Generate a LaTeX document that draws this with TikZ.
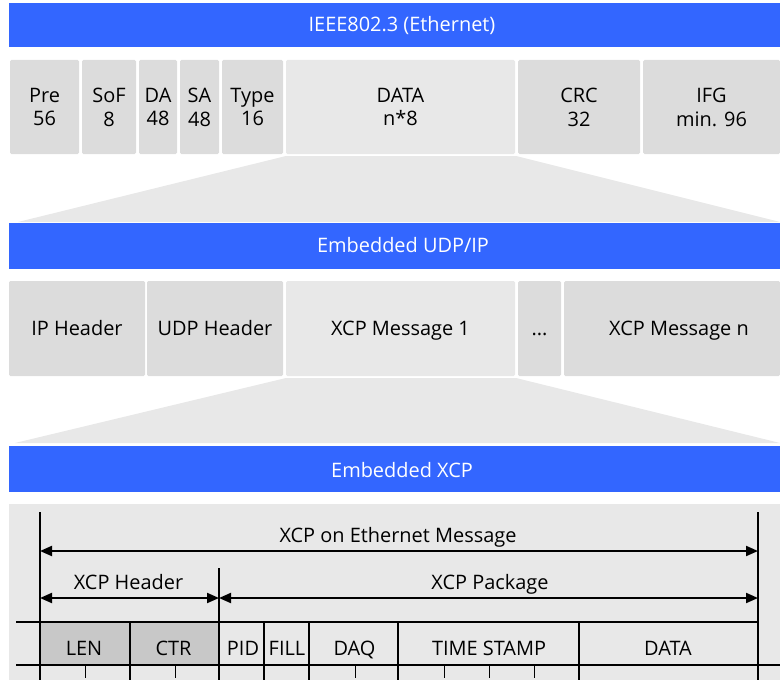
\documentclass[tikz,border=0pt]{standalone}
\usepackage{fontspec}
\setmainfont{Open Sans}
\usetikzlibrary{arrows.meta}
\definecolor{barblue}{RGB}{51,102,255}
\definecolor{fieldgray}{RGB}{220,220,220}
\definecolor{lightfield}{RGB}{232,232,232}
\definecolor{headgray}{RGB}{200,200,200}
\begin{document}
\begin{tikzpicture}[x=1bp,y=-1bp,
  font=\fontsize{20}{24}\selectfont,
  bartext/.style={text=white,anchor=base,inner sep=0},
  field/.style={align=center,inner sep=0},
  lbl/.style={anchor=base,inner sep=0},
  rule/.style={line width=2bp},
  tick/.style={line width=1bp},
  dim/.style={line width=2bp,{Triangle[length=12bp,width=10bp]}-{Triangle[length=12bp,width=10bp]}}]
\useasboundingbox (0,0) rectangle (780,680);

% Ethernet frame
\fill[color=barblue] (9,3) rectangle (780,47);
\node[bartext] (eth) at (402,32) {IEEE802.3 (Ethernet)};

\fill[color=fieldgray,rounded corners=1.5] (10,60) rectangle (79,154);
\fill[color=fieldgray,rounded corners=1.5] (82,60) rectangle (136,154);
\fill[color=fieldgray,rounded corners=1.5] (139,60) rectangle (177,154);
\fill[color=fieldgray,rounded corners=1.5] (180,60) rectangle (219,154);
\fill[color=fieldgray,rounded corners=1.5] (222,60) rectangle (283,154);
\fill[color=lightfield,rounded corners=1.5] (286,60) rectangle (515,154);
\fill[color=fieldgray,rounded corners=1.5] (518,60) rectangle (640,154);
\fill[color=fieldgray,rounded corners=1.5] (643,60) rectangle (780,154);
\node[field] (pre) at (44.5,107) {Pre\\56};
\node[field] (sof) at (109,107) {SoF\\8};
\node[field] (da) at (158,107) {DA\\48};
\node[field] (sa) at (199.5,107) {SA\\48};
\node[field] (type) at (252.5,107) {Type\\16};
\node[field] (ethdata) at (400.5,107) {DATA\\n*8};
\node[field] (crc) at (579,107) {CRC\\32};
\node[field] (ifg) at (711.5,107) {IFG\\min. 96};

% zoom into DATA
\fill[color=lightfield] (286,156) -- (516,156) -- (780,222) -- (18,222) -- cycle;

% UDP/IP
\fill[color=barblue] (9,223) rectangle (780,269);
\node[bartext] (udp) at (403,252) {Embedded UDP/IP};

\fill[color=fieldgray,rounded corners=1.5] (9,281) rectangle (145,376);
\fill[color=fieldgray,rounded corners=1.5] (147,281) rectangle (283,376);
\fill[color=lightfield,rounded corners=1.5] (286,281) rectangle (515,376);
\fill[color=fieldgray,rounded corners=1.5] (518,281) rectangle (561,376);
\fill[color=fieldgray,rounded corners=1.5] (564,281) rectangle (780,376);
\node[lbl] (iphead) at (77,335) {IP Header};
\node[lbl] (udphead) at (215,335) {UDP Header};
\node[lbl] (msgone) at (400.5,335) {XCP Message 1};
\node[lbl] (dots) at (539.5,335) {...};
\node[lbl] (msgn) at (679,335) {XCP Message n};

% zoom into XCP Message 1
\fill[color=lightfield] (286,378) -- (516,378) -- (780,443) -- (15,443) -- cycle;

% XCP
\fill[color=barblue] (9,446) rectangle (780,492);
\node[bartext] (xcp) at (402,477) {Embedded XCP};

\fill[color=lightfield] (9,504) rectangle (780,680);
\fill[color=headgray] (40,622) rectangle (219,665);

\draw[rule] (40,512) -- (40,680);
\draw[rule] (758,512) -- (758,680);
\draw[rule] (219,568) -- (219,680);
\draw[rule] (16,622) -- (758,622);
\draw[rule] (16,665) -- (780,665);
\draw[rule] (130,622) -- (130,680);
\draw[rule] (264,622) -- (264,680);
\draw[rule] (309,622) -- (309,680);
\draw[rule] (398,622) -- (398,680);
\draw[rule] (579,622) -- (579,680);

\draw[tick] (85,665) -- (85,678);
\draw[tick] (175,665) -- (175,678);
\draw[tick] (355,665) -- (355,678);
\draw[tick] (444,665) -- (444,678);
\draw[tick] (489,665) -- (489,678);
\draw[tick] (534,665) -- (534,678);

\coordinate (msgL) at (40,551);
\coordinate (msgR) at (758,551);
\coordinate (headL) at (40,598);
\coordinate (headR) at (219,598);
\coordinate (packR) at (758,598);
\draw[dim] (msgL) -- (msgR);
\draw[dim] (headL) -- (headR);
\draw[dim] (headR) -- (packR);
\node[lbl] (ethmsg) at (398,542) {XCP on Ethernet Message};
\node[lbl] (xcphead) at (128.5,589) {XCP Header};
\node[lbl] (xcppack) at (490,589) {XCP Package};

\node[lbl] (len) at (84,655) {LEN};
\node[lbl] (ctr) at (173.5,655) {CTR};
\node[lbl] (pid) at (243,655) {PID};
\node[lbl] (fill) at (287,655) {FILL};
\node[lbl] (daq) at (354.5,655) {DAQ};
\node[lbl] (tstamp) at (489,655) {TIME STAMP};
\node[lbl] (xcpdata) at (668,655) {DATA};
\end{tikzpicture}
\end{document}
